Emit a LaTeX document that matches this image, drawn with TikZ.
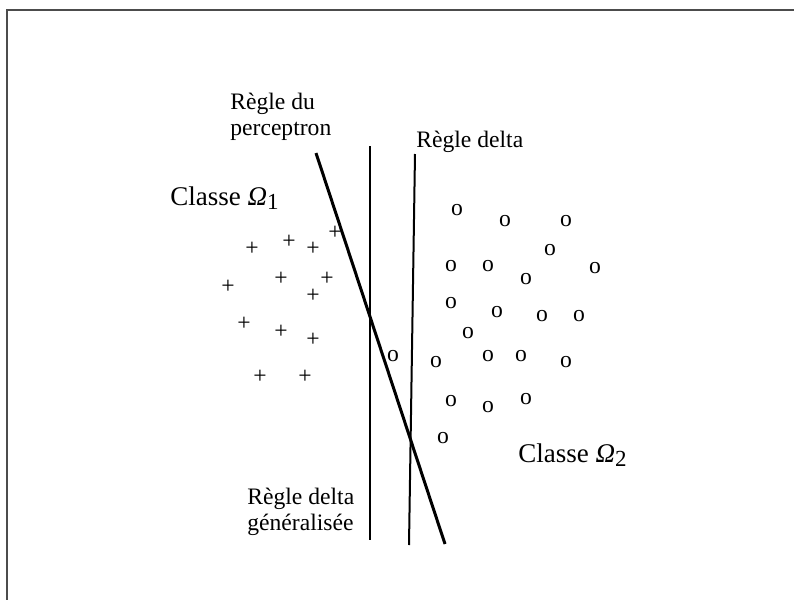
\documentclass[tikz,border=0pt]{standalone}
\usepackage{fontspec}
\setmainfont{Liberation Serif}
\usetikzlibrary{positioning}

\begin{document}
\begin{tikzpicture}[x=0.5pt, y=-0.5pt, font=\fontsize{11.8}{12.6}\selectfont,
        ptA/.style={inner sep=0pt},
        ptB/.style={inner sep=0pt},
        lbl/.style={anchor=base west, inner sep=0pt, align=left}]
        \useasboundingbox (0,0) rectangle (794,600);

        % cadre
        \draw[black!70, line width=0.7pt] (7,600) -- (7,10) -- (794,10);

        % droites de separation
        \draw[line width=1.5pt] (316,153) -- (445,544);
        \draw[line width=1pt]   (370,146) -- (370,540);
        \draw[line width=1pt]   (415,154) -- (409,545);

        % etiquettes
        \node[lbl] (perc)  at (230,135) {Règle du\\perceptron};
        \node[lbl] (delta) at (416,147) {Règle delta};
        \node[lbl] (gen)   at (247,530) {Règle delta\\généralisée};
        \node[lbl, font=\fontsize{13.5}{15}\selectfont] (om1) at (170,205)
            {Classe {\itshape Ω}\raisebox{-0.4ex}{\fontsize{11.5}{12}\selectfont 1}};
        \node[lbl, font=\fontsize{13.5}{15}\selectfont] (om2) at (518,462)
            {Classe {\itshape Ω}\raisebox{-0.4ex}{\fontsize{11.5}{12}\selectfont 2}};

        % classe 1
        \node[ptA] (p1)  at (335,233) {+};
        \node[ptA] (p2)  at (289,242) {+};
        \node[ptA] (p3)  at (252,249) {+};
        \node[ptA] (p4)  at (313,249) {+};
        \node[ptA] (p5)  at (281,279) {+};
        \node[ptA] (p6)  at (327,279) {+};
        \node[ptA] (p7)  at (228,287) {+};
        \node[ptA] (p8)  at (313,296) {+};
        \node[ptA] (p9)  at (244,324) {+};
        \node[ptA] (p10) at (281,332) {+};
        \node[ptA] (p11) at (313,340) {+};
        \node[ptA] (p12) at (260,377) {+};
        \node[ptA] (p13) at (305,377) {+};

        % classe 2
        \node[ptB] (o1)  at (457,210) {o};
        \node[ptB] (o2)  at (505,221) {o};
        \node[ptB] (o3)  at (566,221) {o};
        \node[ptB] (o4)  at (550,250) {o};
        \node[ptB] (o5)  at (451,266) {o};
        \node[ptB] (o6)  at (488,266) {o};
        \node[ptB] (o7)  at (595,268) {o};
        \node[ptB] (o8)  at (526,279) {o};
        \node[ptB] (o9)  at (451,303) {o};
        \node[ptB] (o10) at (497,312) {o};
        \node[ptB] (o11) at (542,316) {o};
        \node[ptB] (o12) at (579,316) {o};
        \node[ptB] (o13) at (468,333) {o};
        \node[ptB] (o14) at (393,356) {o};
        \node[ptB] (o15) at (436,362) {o};
        \node[ptB] (o16) at (488,356) {o};
        \node[ptB] (o17) at (521,356) {o};
        \node[ptB] (o18) at (566,362) {o};
        \node[ptB] (o19) at (451,401) {o};
        \node[ptB] (o20) at (488,407) {o};
        \node[ptB] (o21) at (526,399) {o};
        \node[ptB] (o22) at (443,438) {o};
    \end{tikzpicture}
\end{document}
